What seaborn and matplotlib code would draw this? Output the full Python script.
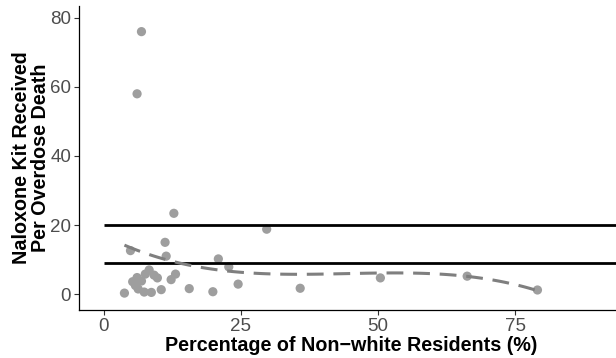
import numpy as np
import pandas as pd
import matplotlib
matplotlib.use("Agg")
import matplotlib.pyplot as plt
import seaborn as sns

# Data
pct_nonwhite = [6.9, 6.1, 12.8, 29.7, 11.2, 4.9, 11.4, 20.9, 22.8, 8.3,
                9.2, 9.8, 6.1, 5.3, 6.9, 12.3, 13.1, 3.8, 6.3, 7.4,
                8.7, 10.5, 15.6, 19.9, 24.5, 35.8, 50.4, 66.2, 79.0, 7.6,
                5.8]
kits_per_death = [76.0, 58.0, 23.4, 18.8, 15.0, 12.6, 11.0, 10.2, 7.9, 7.0,
                  5.5, 4.7, 4.8, 3.6, 3.8, 4.2, 5.8, 0.3, 1.5, 0.6,
                  0.5, 1.3, 1.6, 0.7, 2.9, 1.7, 4.7, 5.2, 1.2, 5.8,
                  2.5]
ref_lines = [20, 9]
x_ticks = [0, 25, 50, 75]
y_ticks = [0, 20, 40, 60, 80]

df = pd.DataFrame({"pct": pct_nonwhite, "kits": kits_per_death})

sns.set_theme(style="ticks")
plt.rcParams["font.family"] = ["Liberation Sans", "DejaVu Sans"]

fig = plt.figure(figsize=(6.16, 3.58), dpi=100)
ax = fig.add_axes([0.128, 0.134, 0.872, 0.85])

sns.scatterplot(data=df, x="pct", y="kits", ax=ax, color="#9e9e9e",
                s=44, edgecolor="none", zorder=2)
for v in ref_lines:
    ax.plot([0, 120], [v, v], color="black", lw=2.0, zorder=3,
            solid_capstyle="butt")
sns.regplot(data=df, x="pct", y="kits", ax=ax, order=3, ci=None,
            scatter=False, truncate=True,
            line_kws=dict(color="#7f7f7f", lw=2.2, ls=(0, (5.5, 3.2)),
                          dash_capstyle="butt", zorder=4))

ax.set_xlim(-4.5, 93.3)
ax.set_ylim(-4.6, 83.5)
ax.set_xticks(x_ticks)
ax.set_yticks(y_ticks)
ax.tick_params(axis="both", colors="#333333", labelcolor="#4d4d4d",
               labelsize=13.5, length=3.5, width=0.8, pad=2)
for s in ["top", "right"]:
    ax.spines[s].set_visible(False)
for s in ["left", "bottom"]:
    ax.spines[s].set_color("black")
    ax.spines[s].set_linewidth(0.9)

ax.set_xlabel("Percentage of Non\u2212white Residents (%)", fontsize=14.2,
              fontweight="bold", color="black", labelpad=1)
ax.xaxis.set_label_coords(0.5065, -0.085, transform=ax.transAxes)
ax.xaxis.label.set_va("top")
ax.set_ylabel("Naloxone Kit Received\nPer Overdose Death", fontsize=14.2,
              fontweight="bold", color="black", labelpad=0.5, linespacing=1.0)

fig.savefig("out.png", dpi=100)
